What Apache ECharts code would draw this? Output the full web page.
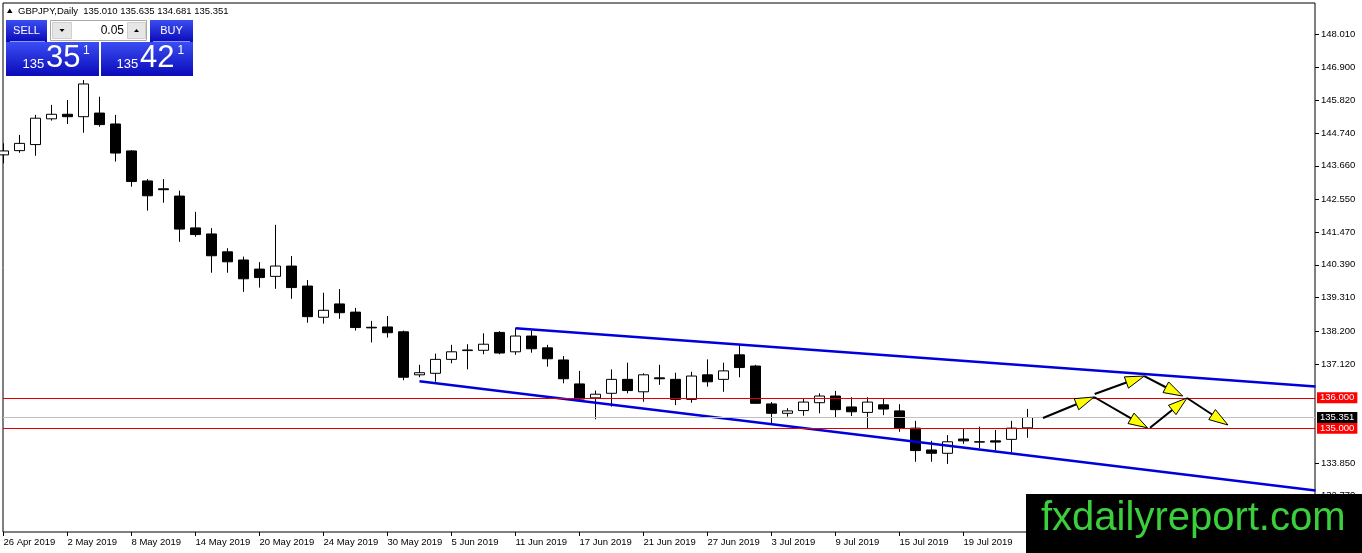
<!DOCTYPE html>
<html>
<head>
<meta charset="UTF-8">
<title>GBPJPY,Daily</title>
<script src="https://cdn.jsdelivr.net/npm/echarts@6/dist/echarts.min.js"></script>
<style>
  html, body { margin: 0; padding: 0; background: #fff; }
  #main { width: 1362px; height: 553px; }
</style>
</head>
<body>
<div id="main"></div>
<script>
// daily bars, 26 Apr 2019 .. 25 Jul 2019
var opens  = [144.02, 144.16, 144.36, 145.21, 145.36, 145.28, 145.40, 145.04, 144.15, 143.16,
              142.90, 142.66, 141.61, 141.41, 140.82, 140.55, 140.25, 140.01, 140.35, 139.69,
              138.66, 139.10, 138.83, 138.33, 138.34, 138.18, 136.76, 136.81, 137.27, 137.56,
              137.57, 138.16, 137.52, 138.04, 137.65, 137.25, 136.46, 136.00, 136.15, 136.61,
              136.20, 136.66, 136.61, 135.95, 136.76, 136.61, 137.42, 137.05, 135.80, 135.49,
              135.58, 135.84, 136.06, 135.70, 135.52, 135.77, 135.57, 135.00, 134.28, 134.17,
              134.64, 134.55, 134.58, 134.63, 135.010];
var highs  = [144.40, 144.68, 145.34, 145.67, 145.83, 146.49, 145.94, 145.34, 144.18, 143.22,
              143.22, 142.84, 142.14, 141.60, 140.94, 140.66, 140.48, 141.71, 140.68, 139.89,
              139.47, 139.59, 138.97, 138.54, 138.70, 138.22, 137.09, 137.46, 137.75, 137.77,
              138.13, 138.20, 138.30, 138.22, 137.75, 137.38, 136.89, 136.24, 136.94, 137.16,
              136.81, 137.09, 136.83, 136.86, 137.27, 137.16, 137.75, 137.09, 135.86, 135.66,
              135.99, 136.15, 136.23, 136.02, 136.02, 135.96, 135.79, 135.24, 134.58, 134.77,
              135.00, 135.05, 134.94, 135.24, 135.635];
var lows   = [143.74, 144.09, 143.99, 145.15, 145.04, 144.75, 144.95, 143.80, 142.97, 142.18,
              142.44, 141.15, 141.32, 140.13, 140.13, 139.50, 139.64, 139.60, 139.27, 138.48,
              138.45, 138.61, 138.22, 137.83, 137.99, 136.58, 136.68, 136.53, 137.14, 136.94,
              137.44, 137.44, 137.42, 137.49, 137.03, 136.48, 135.93, 135.29, 135.71, 136.15,
              135.87, 136.43, 135.76, 135.84, 136.37, 136.20, 136.68, 135.80, 135.16, 135.38,
              135.41, 135.49, 135.36, 135.40, 135.00, 135.43, 134.88, 133.89, 133.89, 133.82,
              134.48, 134.34, 134.26, 134.19, 134.681];
var closes = [144.15, 144.40, 145.23, 145.36, 145.28, 146.36, 145.02, 144.08, 143.14, 142.67,
              142.87, 141.57, 141.39, 140.69, 140.49, 139.93, 139.97, 140.35, 139.64, 138.68,
              138.89, 138.81, 138.32, 138.31, 138.15, 136.68, 136.83, 137.27, 137.52, 137.58,
              137.77, 137.48, 138.04, 137.62, 137.29, 136.63, 135.96, 136.12, 136.61, 136.24,
              136.76, 136.63, 135.95, 136.72, 136.53, 136.89, 137.00, 135.82, 135.49, 135.57,
              135.86, 136.06, 135.61, 135.54, 135.86, 135.63, 135.00, 134.26, 134.17, 134.55,
              134.58, 134.54, 134.54, 135.00, 135.351];

var dateLabels = ['26 Apr 2019', '2 May 2019', '8 May 2019', '14 May 2019', '20 May 2019',
                  '24 May 2019', '30 May 2019', '5 Jun 2019', '11 Jun 2019', '17 Jun 2019',
                  '21 Jun 2019', '27 Jun 2019', '3 Jul 2019', '9 Jul 2019', '15 Jul 2019',
                  '19 Jul 2019'];
var labelStep = 4; // one date label every 4 bars

var priceTicks = [148.010, 146.900, 145.820, 144.740, 143.660, 142.550, 141.470,
                  140.390, 139.310, 138.200, 137.120, 133.850, 132.770];
var levels = [136.000, 135.000];
var bid = 135.351;
var ask = 135.421;
var lot = '0.05';

// trend channel, [bar, price]
var channelTop = [[32, 138.296], [82, 136.372]];
var channelBottom = [[26, 136.55], [82, 132.94]];

// projected path, [bar1, price1, bar2, price2]
var arrows = [
  [64.97, 135.335, 68.16, 136.028],
  [68.20, 136.127, 71.30, 136.720],
  [71.30, 136.720, 73.70, 136.060],
  [68.16, 136.028, 71.50, 135.010],
  [71.66, 135.010, 73.97, 135.995],
  [73.97, 135.995, 76.53, 135.104]
];

var FONT = 'Liberation Sans';

var candles = opens.map(function (o, i) {
  return [i, o, closes[i], lows[i], highs[i]];
});
var labelBars = dateLabels.map(function (d, i) { return i * labelStep; });

var last = candles.length - 1;
var header = 'GBPJPY,Daily  ' + [opens[last], highs[last], lows[last], closes[last]]
  .map(function (v) { return v.toFixed(3); }).join(' ');

function splitQuote(v) {
  var s = v.toFixed(3);
  return [s.slice(0, 3), s.slice(4, 6), s.slice(6)];
}
var bidParts = splitQuote(bid);
var askParts = splitQuote(ask);

var blue = {
  type: 'linear', x: 0, y: 0, x2: 0, y2: 1,
  colorStops: [{ offset: 0, color: '#3b4df3' }, { offset: 1, color: '#0a0ab8' }]
};

var myChart = echarts.init(document.getElementById('main'));

var option = {
  animation: false,
  backgroundColor: '#fff',
  grid: {
    left: 3, right: 47, top: 3, bottom: 21,
    show: true, borderColor: '#000', borderWidth: 1, backgroundColor: '#fff'
  },
  xAxis: {
    type: 'value',
    min: -0.03,
    max: 81.97,
    axisLine: { show: false, onZero: false },
    splitLine: { show: false },
    axisTick: { show: true, customValues: labelBars, length: 4, lineStyle: { color: '#000' } },
    axisLabel: {
      customValues: labelBars,
      formatter: function (v) { return dateLabels[Math.round(v / labelStep)]; },
      align: 'left', margin: 5, color: '#000', fontSize: 9.5, fontFamily: FONT
    }
  },
  yAxis: {
    type: 'value',
    position: 'right',
    min: 131.572,
    max: 149.033,
    axisLine: { show: false, onZero: false },
    splitLine: { show: false },
    axisTick: { show: true, customValues: priceTicks, length: 4, lineStyle: { color: '#000' } },
    axisLabel: {
      customValues: priceTicks,
      formatter: function (v) { return v.toFixed(3); },
      margin: 6, color: '#000', fontSize: 9.5, fontFamily: FONT
    }
  },
  series: [
    {
      type: 'candlestick',
      data: candles,
      barWidth: 10,
      itemStyle: {
        color: '#fff', color0: '#000',
        borderColor: '#000', borderColor0: '#000', borderColorDoji: '#000',
        borderWidth: 1
      },
      emphasis: { disabled: true },
      markLine: {
        silent: true,
        symbol: ['none', 'none'],
        label: {
          show: true, position: 'end', distance: 2,
          formatter: '{b}',
          color: '#fff', fontSize: 9.5, fontFamily: FONT, padding: [1, 3, 0, 3]
        },
        data: levels.map(function (v) {
          return { name: v.toFixed(3), yAxis: v,
                   lineStyle: { color: '#e00000', width: 1, type: 'solid' },
                   label: { backgroundColor: '#ff0000' } };
        }).concat([{ name: bid.toFixed(3), yAxis: bid,
                     lineStyle: { color: '#c0c0c0', width: 1, type: 'solid' },
                     label: { backgroundColor: '#000' } }])
      }
    },
    {
      type: 'line', data: channelTop, symbol: 'none', silent: true,
      lineStyle: { color: '#0000dd', width: 2.5 }
    },
    {
      type: 'line', data: channelBottom, symbol: 'none', silent: true,
      lineStyle: { color: '#0000dd', width: 2.5 }
    },
    {
      type: 'custom',
      silent: true,
      data: arrows,
      encode: { x: [0, 2], y: [1, 3] },
      z: 5,
      renderItem: function (params, api) {
        var p1 = api.coord([api.value(0), api.value(1)]);
        var p2 = api.coord([api.value(2), api.value(3)]);
        var dx = p2[0] - p1[0], dy = p2[1] - p1[1];
        var len = Math.sqrt(dx * dx + dy * dy);
        var ux = dx / len, uy = dy / len;
        var headLen = 19, half = 6;
        var bx = p2[0] - ux * headLen, by = p2[1] - uy * headLen;
        return {
          type: 'group',
          children: [
            { type: 'line', shape: { x1: p1[0], y1: p1[1], x2: bx, y2: by },
              style: { stroke: '#000', lineWidth: 2 } },
            { type: 'polygon',
              shape: { points: [p2, [bx - uy * half, by + ux * half], [bx + uy * half, by - ux * half]] },
              style: { fill: '#ffff00', stroke: '#000', lineWidth: 1 } }
          ]
        };
      }
    }
  ],
  graphic: [
    // chart header
    { type: 'polygon', z: 100, shape: { points: [[7, 13], [12.5, 13], [9.75, 8.5]] }, style: { fill: '#000' } },
    { type: 'text', z: 100, x: 18, y: 11,
      style: { text: header, fill: '#000', font: '9.5px ' + FONT, verticalAlign: 'middle' } },

    // one-click trading panel
    { type: 'rect', z: 100, shape: { x: 6, y: 20, width: 41, height: 22 }, style: { fill: blue } },
    { type: 'rect', z: 100, shape: { x: 150, y: 20, width: 43, height: 22 }, style: { fill: blue } },
    { type: 'rect', z: 100, shape: { x: 6, y: 42, width: 93, height: 34 }, style: { fill: blue } },
    { type: 'rect', z: 100, shape: { x: 101, y: 42, width: 92, height: 34 }, style: { fill: blue } },
    { type: 'line', z: 101, shape: { x1: 10, y1: 41.5, x2: 45, y2: 41.5 }, style: { stroke: '#8a96ff', lineWidth: 1 } },
    { type: 'line', z: 101, shape: { x1: 153, y1: 41.5, x2: 190, y2: 41.5 }, style: { stroke: '#8a96ff', lineWidth: 1 } },
    { type: 'text', z: 101, x: 26.5, y: 31,
      style: { text: 'SELL', fill: '#fff', font: '11px ' + FONT, align: 'center', verticalAlign: 'middle' } },
    { type: 'text', z: 101, x: 171.5, y: 31,
      style: { text: 'BUY', fill: '#fff', font: '11px ' + FONT, align: 'center', verticalAlign: 'middle' } },

    { type: 'rect', z: 100, shape: { x: 50.5, y: 20.5, width: 96, height: 20 }, style: { fill: '#fff', stroke: '#a8a8a8' } },
    { type: 'rect', z: 101, shape: { x: 52.5, y: 22.5, width: 19, height: 16 }, style: { fill: '#e6e6e6', stroke: '#cfcfcf' } },
    { type: 'rect', z: 101, shape: { x: 127.5, y: 22.5, width: 18, height: 16 }, style: { fill: '#e6e6e6', stroke: '#cfcfcf' } },
    { type: 'polygon', z: 102, shape: { points: [[59.5, 29], [64.5, 29], [62, 32]] }, style: { fill: '#000' } },
    { type: 'polygon', z: 102, shape: { points: [[134, 32], [139, 32], [136.5, 29]] }, style: { fill: '#000' } },
    { type: 'text', z: 101, x: 124, y: 30.5,
      style: { text: lot, fill: '#000', font: '12px ' + FONT, align: 'right', verticalAlign: 'middle' } },

    { type: 'text', z: 101, x: 22.5, y: 64.5,
      style: { text: bidParts[0], fill: '#fff', font: '13px ' + FONT, verticalAlign: 'middle' } },
    { type: 'text', z: 101, x: 46, y: 58.5,
      style: { text: bidParts[1], fill: '#fff', font: '31px ' + FONT, verticalAlign: 'middle' } },
    { type: 'text', z: 101, x: 83, y: 51,
      style: { text: bidParts[2], fill: '#fff', font: '12px ' + FONT, verticalAlign: 'middle' } },
    { type: 'text', z: 101, x: 116.5, y: 64.5,
      style: { text: askParts[0], fill: '#fff', font: '13px ' + FONT, verticalAlign: 'middle' } },
    { type: 'text', z: 101, x: 140, y: 58.5,
      style: { text: askParts[1], fill: '#fff', font: '31px ' + FONT, verticalAlign: 'middle' } },
    { type: 'text', z: 101, x: 177.5, y: 51,
      style: { text: askParts[2], fill: '#fff', font: '12px ' + FONT, verticalAlign: 'middle' } },

    // watermark
    { type: 'rect', z: 100, shape: { x: 1026, y: 494, width: 336, height: 59 }, style: { fill: '#000' } },
    { type: 'text', z: 101, x: 1041, y: 519,
      style: { text: 'fxdailyreport.com', fill: '#3bd03b', font: '40px ' + FONT, verticalAlign: 'middle' } }
  ]
};

myChart.setOption(option);
</script>
</body>
</html>
